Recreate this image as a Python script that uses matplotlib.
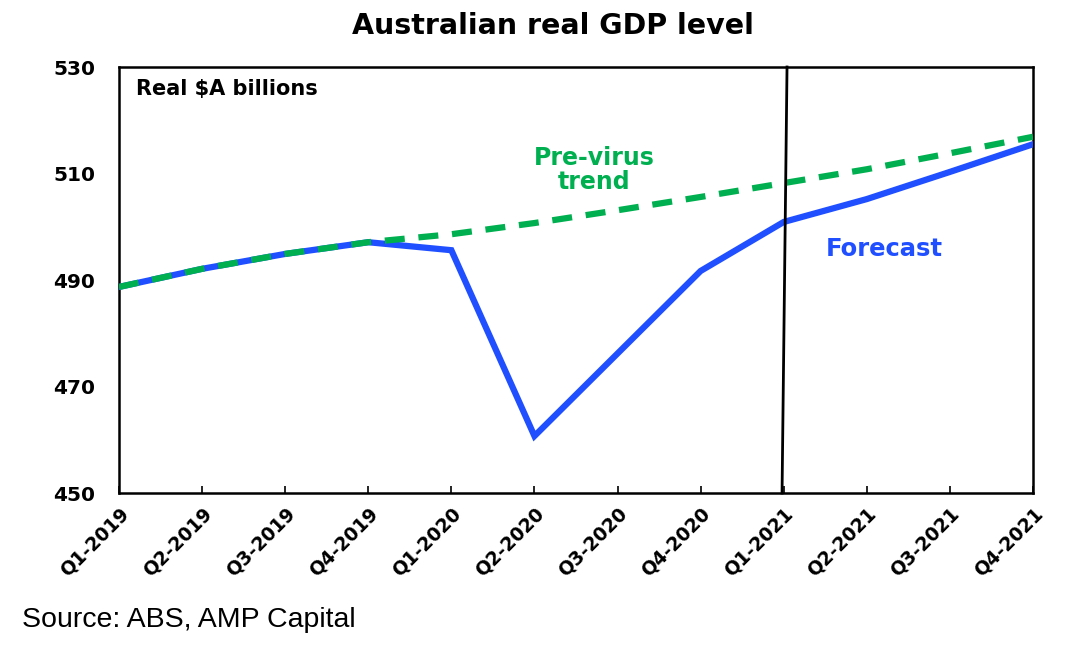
import numpy as np
import matplotlib
matplotlib.use('Agg')
from matplotlib import pyplot as plt

plt.rcParams['font.family'] = ['DejaVu Sans']

quarters = ['Q1-2019', 'Q2-2019', 'Q3-2019', 'Q4-2019',
            'Q1-2020', 'Q2-2020', 'Q3-2020', 'Q4-2020',
            'Q1-2021', 'Q2-2021', 'Q3-2021', 'Q4-2021']

# real GDP, actual + forecast ($A bn)
gdp = [488.7, 492.1, 494.9, 497.1,
       495.6, 460.7, 476.2, 491.7,
       500.9, 505.2, 510.3, 515.5]

# pre-virus trend
trend = [488.7, 492.1, 494.9, 497.1,
         498.6, 500.7, 503.1, 505.6,
         508.2, 510.8, 513.8, 516.9]

forecast_start = 8  # index of Q1-2021

blue = '#1F4FFF'
green = '#00B050'

fig = plt.figure(figsize=(10.7, 6.5), dpi=100)
ax = fig.add_axes([0.1112, 0.2415, 0.8542, 0.6554])

x = np.arange(len(quarters))
ax.plot(x, gdp, color=blue, lw=4.5, solid_joinstyle='miter', zorder=3)
ax.plot(x, trend, color=green, lw=4.5, dashes=(3.2, 2.2), zorder=4)

# forecast divider (slightly slanted as in the original)
ax.plot([forecast_start + 0.04, forecast_start - 0.02], [530, 450],
        color='black', lw=2, zorder=5, clip_on=False)

ax.set_xlim(0, len(quarters) - 1)
ax.set_ylim(450, 530)
ax.set_yticks([450, 470, 490, 510, 530])
ax.set_xticks(x)
ax.set_xticklabels(quarters, rotation=45, ha='right', rotation_mode='anchor',
                   fontsize=13.5, fontweight='bold')
for lab in ax.get_yticklabels():
    lab.set_fontsize(14.5)
    lab.set_fontweight('bold')
ax.tick_params(axis='x', direction='in', length=5, width=1.2, pad=8)
ax.tick_params(axis='y', length=0, pad=17)
for s in ax.spines.values():
    s.set_linewidth(1.8)

ax.text(0.2, 527.8, 'Real $A billions', fontsize=15, fontweight='bold', va='top')
ax.text(5.72, 510.7, 'Pre-virus\ntrend', color=green, fontsize=17, fontweight='bold',
        ha='center', va='center', linespacing=1.0)
ax.text(8.5, 495.8, 'Forecast', color=blue, fontsize=17.5, fontweight='bold',
        ha='left', va='center')

fig.text(0.517, 0.96, 'Australian real GDP level', fontsize=20.5, fontweight='bold',
         ha='center', va='center')
fig.text(0.021, 0.046, 'Source: ABS, AMP Capital', fontsize=20.5, ha='left', va='center',
         family='Liberation Sans')

fig.savefig('out.png', dpi=100)
